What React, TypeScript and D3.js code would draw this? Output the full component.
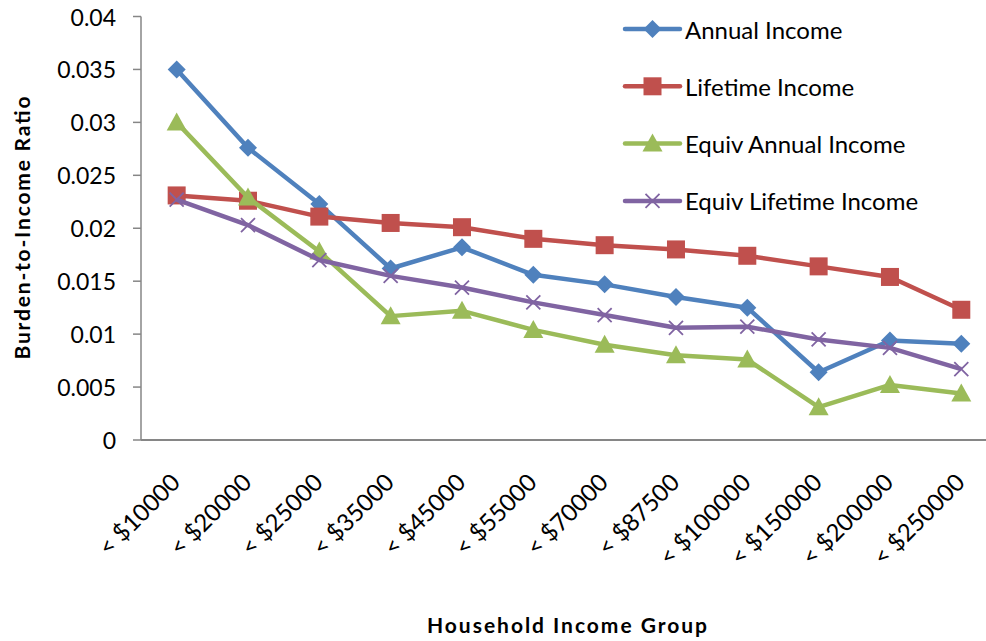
import * as d3 from "d3"

const categories = [
  "< $10000", "< $20000", "< $25000", "< $35000", "< $45000", "< $55000",
  "< $70000", "< $87500", "< $100000", "< $150000", "< $200000", "< $250000",
]

const annualIncome = [0.035, 0.0276, 0.0223, 0.0162, 0.0182, 0.0156, 0.0147, 0.0135, 0.0125, 0.0064, 0.0094, 0.0091]
const lifetimeIncome = [0.0231, 0.0226, 0.0211, 0.0205, 0.0201, 0.019, 0.0184, 0.018, 0.0174, 0.0164, 0.0154, 0.0123]
const equivAnnualIncome = [0.0300, 0.0229, 0.0178, 0.0117, 0.0122, 0.0104, 0.009, 0.008, 0.0076, 0.0031, 0.0052, 0.0044]
const equivLifetimeIncome = [0.0227, 0.0203, 0.017, 0.0155, 0.0144, 0.013, 0.0118, 0.0106, 0.0107, 0.0095, 0.0087, 0.0067]

const yTicks = [0, 0.005, 0.01, 0.015, 0.02, 0.025, 0.03, 0.035, 0.04]
const yTickLabels = ["0", "0.005", "0.01", "0.015", "0.02", "0.025", "0.03", "0.035", "0.04"]

type Marker = "diamond" | "square" | "triangle" | "x"

const series: { name: string; values: number[]; color: string; marker: Marker }[] = [
  { name: "Annual Income", values: annualIncome, color: "#4f81bd", marker: "diamond" },
  { name: "Lifetime Income", values: lifetimeIncome, color: "#c0504d", marker: "square" },
  { name: "Equiv Annual Income", values: equivAnnualIncome, color: "#9bbb59", marker: "triangle" },
  { name: "Equiv Lifetime Income", values: equivLifetimeIncome, color: "#8064a2", marker: "x" },
]

const width = 986
const height = 641
const margin = { left: 141, top: 16.5, bottom: 440 }
const font = "Lato, 'Open Sans', sans-serif"
const axisColor = "#868686"

function MarkerShape({ type, x, y, color }: { type: Marker; x: number; y: number; color: string }) {
  if (type === "diamond") {
    const r = 9
    return <path d={`M${x},${y - r}L${x + r},${y}L${x},${y + r}L${x - r},${y}Z`} fill={color} />
  }
  if (type === "square") {
    const r = 9
    return <rect x={x - r} y={y - r} width={r * 2} height={r * 2} fill={color} />
  }
  if (type === "triangle") {
    return <path d={`M${x},${y - 10}L${x + 10},${y + 8}L${x - 10},${y + 8}Z`} fill={color} />
  }
  const r = 7
  return (
    <path
      d={`M${x - r},${y - r}L${x + r},${y + r}M${x - r},${y + r}L${x + r},${y - r}`}
      stroke={color}
      strokeWidth={1.8}
      fill="none"
    />
  )
}

export default function App() {
  const xScale = d3.scaleBand().domain(categories).range([margin.left, margin.left + 12 * 71.33])
  const yScale = d3.scaleLinear().domain([0, 0.04]).range([margin.bottom, margin.top])
  const cx = (c: string) => (xScale(c) || 0) + xScale.bandwidth() / 2

  const line = d3
    .line<number>()
    .x((_, i) => cx(categories[i]))
    .y((d) => yScale(d))

  return (
    <svg
      width={width}
      height={height}
      style={{ position: "absolute", left: 0, top: 0, background: "#fff" }}
      fontFamily={font}
    >
      {/* y axis */}
      <line x1={margin.left} x2={margin.left} y1={margin.top} y2={margin.bottom} stroke={axisColor} strokeWidth={1.5} />
      {yTicks.map((t, i) => (
        <g key={t}>
          <line x1={margin.left - 8} x2={margin.left} y1={yScale(t)} y2={yScale(t)} stroke={axisColor} strokeWidth={1.5} />
          <text x={116} y={yScale(t)} textAnchor="end" dominantBaseline="central" fontSize={23} fill="#000">
            {yTickLabels[i]}
          </text>
        </g>
      ))}
      <text
        transform={`translate(30, 228) rotate(-90)`}
        textAnchor="middle"
        fontSize={21}
        fontWeight="bold"
        textLength={263}
        lengthAdjust="spacing"
      >
        Burden-to-Income Ratio
      </text>

      {/* x axis */}
      <line x1={margin.left} x2={width} y1={margin.bottom} y2={margin.bottom} stroke={axisColor} strokeWidth={2} />
      {categories.map((c) => (
        <text
          key={c}
          transform={`translate(${cx(c) + 5}, 484) rotate(-45)`}
          textAnchor="end"
          fontSize={24}
        >
          {c}
        </text>
      ))}
      <text
        x={567}
        y={633}
        textAnchor="middle"
        fontSize={21}
        fontWeight="bold"
        textLength={280}
        lengthAdjust="spacing"
      >
        Household Income Group
      </text>

      {/* series */}
      {series.map((s) => (
        <g key={s.name}>
          <path d={line(s.values) || ""} fill="none" stroke={s.color} strokeWidth={4.5} strokeLinejoin="round" />
          {s.values.map((v, i) => (
            <MarkerShape key={i} type={s.marker} x={cx(categories[i])} y={yScale(v)} color={s.color} />
          ))}
        </g>
      ))}

      {/* legend */}
      {series.map((s, i) => {
        const ly = 29 + i * 57.3
        return (
          <g key={s.name}>
            <line x1={625} x2={680} y1={ly} y2={ly} stroke={s.color} strokeWidth={4.5} strokeLinecap="round" />
            <MarkerShape type={s.marker} x={652.5} y={ly} color={s.color} />
            <text x={685} y={ly} dominantBaseline="central" fontSize={24}>
              {s.name}
            </text>
          </g>
        )
      })}
    </svg>
  )
}
